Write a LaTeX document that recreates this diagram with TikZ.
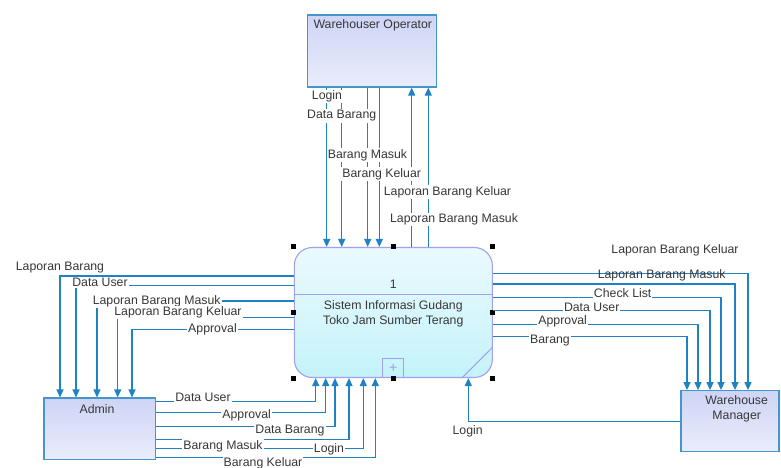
\documentclass[tikz,border=0pt]{standalone}
\usepackage{fontspec}
\setmainfont{Liberation Sans}
\usetikzlibrary{arrows.meta,positioning,calc}
\definecolor{FlowBlue}{RGB}{30,130,195}
\definecolor{EntBorder}{RGB}{70,150,205}
\definecolor{EntTop}{RGB}{206,212,245}
\definecolor{EntBottom}{RGB}{234,237,252}
\definecolor{ProcBorder}{RGB}{160,160,235}
\definecolor{ProcTop}{RGB}{234,250,254}
\definecolor{ProcBottom}{RGB}{196,243,250}
\definecolor{LabelGray}{RGB}{55,55,55}

\begin{document}
\begin{tikzpicture}[x=1pt,y=-1pt,
    every node/.style={font=\fontsize{12.3}{15}\selectfont, text=LabelGray},
    entity/.style={draw=EntBorder, line width=1.2pt, top color=EntTop, bottom color=EntBottom, inner sep=0pt},
    process/.style={draw=ProcBorder, line width=1.1pt, rounded corners=18pt, top color=ProcTop, bottom color=ProcBottom, minimum width=198pt, minimum height=130pt},
    flow/.style={draw=FlowBlue, line width=1.3pt, -{Triangle[length=8pt,width=7pt]}},
    lbl/.style={fill=white, inner sep=1pt},
    handle/.style={fill=black, minimum size=5pt, inner sep=0pt}]
        \useasboundingbox (0,0) rectangle (781,468);
        % entities and process
        \node[entity, minimum width=129pt, minimum height=72pt] (op) at (372.2,51) {};
        \node (optitle) at (372.8,25) {Warehouser Operator};
        \node[entity, minimum width=111.7pt, minimum height=61.3pt] (admin) at (99.8,428.7) {};
        \node (admintitle) at (97,409) {Admin};
        \node[entity, minimum width=98pt, minimum height=61pt] (mgr) at (730,421.2) {};
        \node[align=center] (mgrtitle) at (736.7,409.2) {Warehouse\\Manager};
        \node[process] (p) at (393.3,312.5) {};
        \draw[ProcBorder, line width=1.1pt] (p.west |- 0,294.3) -- (p.east |- 0,294.3);
        \draw[ProcBorder, line width=1.1pt] ([yshift=31pt]p.south east) -- ([xshift=-31pt]p.south east);
        \node (pnum) at (393.3,284) {1};
        \node[align=center] (pname) at (393.3,313.5) {Sistem Informasi Gudang\\Toko Jam Sumber Terang};
        \node[draw=ProcBorder, line width=1pt, minimum width=20.7pt, minimum height=19.4pt, inner sep=0pt, text=ProcBorder, above=0pt of p.south] (pplus) {\Large +};
        \foreach \a [count=\i] in {north west,north,north east,west,east,south west,south,south east}
          \node[handle] (h\i) at (p.\a) {};
        % flows
        \foreach \x in {326.7,341.7,367.7,379.3} \draw[flow] (op.south -| \x,0) -- (p.north -| \x,0);
        \foreach \x in {411.7,428.3} \draw[flow] (p.north -| \x,0) -- (op.south -| \x,0);
        \foreach \y/\x in {276/60,285.3/76,301/97,317.7/117.7,329.3/132}
          \draw[flow] (p.west |- 0,\y) -| (admin.north -| \x,0);
        \foreach \y/\x in {401.7/315.7,412.7/325.7,426.7/335,439.3/349,448.3/363.3,457.3/375.3}
          \draw[flow] (admin.east |- 0,\y) -| (p.south -| \x,0);
        \foreach \y/\x in {273.3/748,284/735,297.7/721,310.7/710,324.3/698,336.7/687}
          \draw[flow] (p.east |- 0,\y) -| (mgr.north -| \x,0);
        \draw[flow] (mgr.west |- 0,421.7) -| (p.south -| 468.3,0);
        % labels
        \node[lbl] (t1) at (327,96.7) {Login};
        \node[lbl] (t2) at (341.7,116) {Data Barang};
        \node[lbl] (t3) at (367.5,155) {Barang Masuk};
        \node[lbl] (t4) at (381.7,174) {Barang Keluar};
        \node[lbl] (t5) at (447.5,192) {Laporan Barang Keluar};
        \node[lbl] (t6) at (454,219.5) {Laporan Barang Masuk};
        \node[lbl] (l1) at (60,267.3) {Laporan Barang};
        \node[lbl] (l2) at (100,282.7) {Data User};
        \node[lbl] (l3) at (156.7,301) {Laporan Barang Masuk};
        \node[lbl] (l4) at (178,312.7) {Laporan Barang Keluar};
        \node[lbl] (l5) at (212.5,329.3) {Approval};
        \node[lbl] (b1) at (203,397.3) {Data User};
        \node[lbl] (b2) at (246.7,415) {Approval};
        \node[lbl] (b3) at (290,431) {Data Barang};
        \node[lbl] (b4) at (223,446) {Barang Masuk};
        \node[lbl] (b5) at (329,449) {Login};
        \node[lbl] (b6) at (263,463.3) {Barang Keluar};
        \node[lbl] (r1) at (675,250) {Laporan Barang Keluar};
        \node[inner sep=1pt] (r2) at (661.7,275) {Laporan Barang Masuk};
        \node[lbl] (r3) at (622.7,293.3) {Check List};
        \node[lbl] (r4) at (591.7,307.7) {Data User};
        \node[lbl] (r5) at (562.7,321) {Approval};
        \node[lbl] (r6) at (550,340.7) {Barang};
        \node[lbl] (m1) at (467.7,431.7) {Login};
      \end{tikzpicture}
\end{document}
